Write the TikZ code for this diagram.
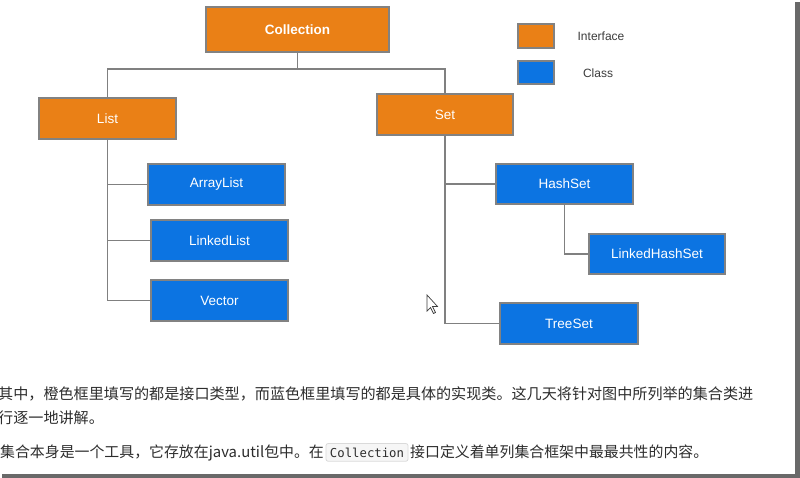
\documentclass[tikz,border=0pt]{standalone}
\usepackage{fontspec}
\setmainfont{Liberation Sans}
\newfontfamily\cjk{Noto Sans CJK SC}
\newfontfamily\codefont{DejaVu Sans Mono}
\definecolor{ifc}{RGB}{234,128,22}
\definecolor{cls}{RGB}{12,116,226}
\definecolor{edgegray}{RGB}{130,130,130}
\definecolor{conngray}{RGB}{128,128,128}
\definecolor{txtdark}{RGB}{45,45,45}
\definecolor{legtxt}{RGB}{60,60,60}
\definecolor{shadowgray}{RGB}{105,105,105}
\definecolor{codeedge}{RGB}{218,218,218}
\definecolor{codefill}{RGB}{246,246,246}
\tikzset{
  basebox/.style={draw=edgegray, line width=1.3pt, text=white, inner sep=0pt,
    font=\fontsize{13.5}{16}\selectfont},
  ibox/.style={basebox, fill=ifc},
  cbox/.style={basebox, fill=cls},
  conn/.style={draw=conngray, line width=1.6pt},
  legtext/.style={text=legtxt, font=\fontsize{12}{14}\selectfont},
  cjktext/.style={text=txtdark, inner sep=0pt, font=\cjk\fontsize{15.1}{18}\selectfont},
  cjkline3/.style={cjktext, font=\cjk\fontsize{14.9}{18}\selectfont},
  codebox/.style={draw=codeedge, fill=codefill, line width=0.8pt,
    rounded corners=2pt, inner xsep=3pt, inner ysep=4pt, minimum width=82pt,
    text=txtdark, font=\codefont\fontsize{12.3}{14}\selectfont},
}
\begin{document}
\begin{tikzpicture}[x=1pt,y=-1pt]
\useasboundingbox (0,0) rectangle (800,478);
\fill[white] (0,0) rectangle (800,478);
% frame shadow
\fill[shadowgray] (795,2) rectangle (800,478);
\fill[shadowgray] (2,474) rectangle (800,478);

% nodes
\node[ibox, minimum width=183pt, minimum height=45pt, font=\bfseries\fontsize{13.5}{16}\selectfont] (coll) at (297.5,29.5) {Collection};
\node[ibox, minimum width=137pt, minimum height=41pt] (list) at (107.5,118.5) {List};
\node[ibox, minimum width=136pt, minimum height=41pt] (set) at (445,114.5) {Set};
\node[cbox, minimum width=137pt, minimum height=41pt] (arr) at (216.5,184.5) {ArrayList};
\node[cbox, minimum width=137pt, minimum height=41pt] (lnk) at (219.5,240.5) {LinkedList};
\node[cbox, minimum width=137pt, minimum height=41pt] (vec) at (219.5,300.5) {Vector};
\node[cbox, minimum width=137pt, minimum height=40pt] (hash) at (564.5,184) {HashSet};
\node[cbox, minimum width=136pt, minimum height=40pt] (lhs) at (657,254) {LinkedHashSet};
\node[cbox, minimum width=138pt, minimum height=41pt] (tree) at (569,323.5) {TreeSet};

% legend
\node[ibox, minimum width=36pt, minimum height=24pt] (legi) at (536,36) {};
\node[cbox, minimum width=36pt, minimum height=23pt] (legc) at (536,72.5) {};
\node[legtext] (legit) at (601,36) {Interface};
\node[legtext] (legct) at (598,73) {Class};

% connectors
\coordinate (junc) at (297.5,69);
\draw[conn] (coll.south) -- (junc);
\draw[conn] (list.north) |- (junc) -| (set.north);
\draw[conn] (list.south) |- (arr.west);
\draw[conn] (list.south) |- (lnk.west);
\draw[conn] (list.south) |- (vec.west);
\draw[conn] (set.south) |- (hash.west);
\draw[conn] (set.south) |- (tree.west);
\draw[conn] (hash.south) |- (lhs.west);

% mouse cursor
\draw[fill=white, draw=black!75, line width=0.7pt, line join=miter]
  (427,295) -- (427,311) -- (430.5,307.5) -- (433.5,313.5) -- (435.5,312.5) -- (432.5,306.5) -- (437.5,306.5) -- cycle;

% text below
\node[cjktext, anchor=base west] (t1) at (-2,399) {其中，橙色框里填写的都是接口类型，而蓝色框里填写的都是具体的实现类。这几天将针对图中所列举的集合类进};
\node[cjktext, anchor=base west] (t2) at (-2,423) {行逐一地讲解。};
\node[cjkline3, anchor=base west] (t3a) at (0,457) {集合本身是一个工具，它存放在java.util包中。在};
\node[codebox, anchor=base] (code) at (367,457) {Collection};
\node[cjkline3, anchor=base west] (t3b) at (410,457) {接口定义着单列集合框架中最最共性的内容。};
\end{tikzpicture}
\end{document}
